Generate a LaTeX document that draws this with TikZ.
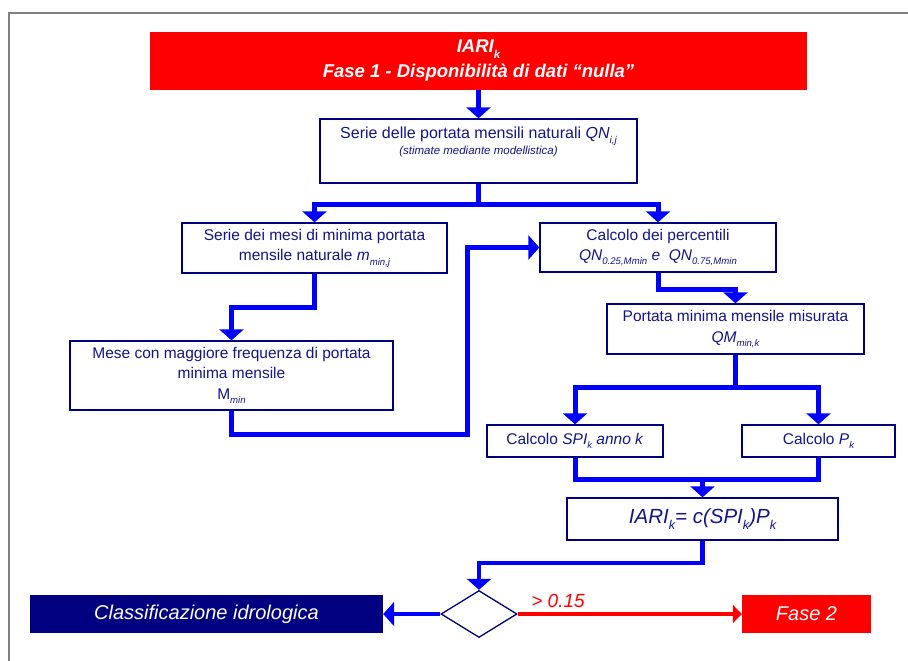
\documentclass[tikz,border=0pt]{standalone}
\usepackage{fontspec}
\setmainfont{Liberation Sans}
\usetikzlibrary{arrows.meta,shapes.geometric}
\definecolor{navyb}{RGB}{0,0,128}
\definecolor{navyt}{RGB}{20,20,140}
\definecolor{lblue}{RGB}{0,0,255}
\definecolor{rred}{RGB}{255,0,0}
\definecolor{fgray}{RGB}{128,128,128}
\makeatletter
\newcommand\sbx[1]{\raisebox{-0.28em}{\fontsize{\fpeval{0.62*\f@size}}{1}\selectfont\itshape #1}}
\makeatother
\tikzset{
  box/.style={draw=navyb, line width=1.3pt, fill=white, text=navyt, align=center,
    inner sep=0pt, font=\fontsize{15.5}{20.5}\selectfont},
  conn/.style={lblue, line width=5pt},
  arr/.style={conn, -{Triangle[width=24pt,length=11pt]}},
  redbox/.style={fill=rred, text=white, align=center, inner sep=0pt},
}
\begin{document}
\begin{tikzpicture}[x=1pt,y=-1pt]
\useasboundingbox (0,0) rectangle (908,661);
\draw[fgray, line width=1.5pt] (9,661) -- (9,13) -- (908,13);

% nodes
\node[redbox, minimum width=657, minimum height=58,
  font=\fontsize{18.5}{25}\selectfont\bfseries\itshape] (top) at (478.5,61)
  {IARI\sbx{k}\\Fase 1 - Disponibilità di dati “nulla”};
\node[box, minimum width=317, minimum height=64] (b1) at (478.5,151) {};
\node[text=navyt, align=center, inner sep=0pt, font=\fontsize{16}{14}\selectfont] (t1) at (478.5,142)
  {Serie delle portata mensili naturali \textit{QN}\sbx{i,j}\\
   {\fontsize{11.5}{13}\selectfont\itshape (stimate mediante modellistica)}};
\node[box, minimum width=265, minimum height=50] (b2) at (314.5,248)
  {Serie dei mesi di minima portata\\mensile naturale \textit{m}\sbx{min,j}};
\node[box, minimum width=236, minimum height=49] (b3) at (658,247.5)
  {Calcolo dei percentili\\\textit{QN}\sbx{0.25,Mmin}\textit{ e\ \ QN}\sbx{0.75,Mmin}};
\node[box, minimum width=323, minimum height=69] (b4) at (231.5,375.5)
  {Mese con maggiore frequenza di portata\\minima mensile\\M\sbx{min}};
\node[box, minimum width=257, minimum height=50] (b5) at (735.5,329)
  {Portata minima mensile misurata\\\textit{QM}\sbx{min,k}};
\node[box, minimum width=176, minimum height=32] (b6) at (575,441)
  {Calcolo \textit{SPI}\sbx{k}\textit{ anno k}};
\node[box, minimum width=153, minimum height=32] (b7) at (818.5,441)
  {Calcolo \textit{P}\sbx{k}};
\node[box, minimum width=271, minimum height=42, font=\fontsize{20.5}{24}\selectfont\itshape] (b8) at (702.5,519)
  {IARI\sbx{k}= c(SPI\sbx{k})P\sbx{k}};
\node[diamond, draw=navyb, line width=1.3pt, fill=white, minimum width=76, minimum height=47, inner sep=0pt] (dm) at (479,614) {};
\node[fill=navyb, text=white, inner sep=0pt, minimum width=353, minimum height=38,
  font=\fontsize{20}{24}\selectfont\itshape] (cls) at (206.5,614) {Classificazione idrologica};
\node[redbox, minimum width=129, minimum height=38,
  font=\fontsize{20}{24}\selectfont\itshape] (f2) at (806.5,614) {Fase 2};
\node[text=rred, inner sep=0pt, font=\fontsize{19}{22}\selectfont\itshape] (lab) at (558,601) {> 0.15};

% junction coordinates
\coordinate (j1) at (478.5,204);
\coordinate (j2) at (300,307);
\coordinate (j3) at (467,434);
\coordinate (j4) at (700,289);
\coordinate (j5) at (735.5,387);
\coordinate (j6) at (702.5,479);
\coordinate (j7) at (600,563);

% connectors
\draw[arr] (top.south -| b1.north) -- (b1.north);
\draw[conn] (b1.south) -- (j1);
\draw[arr] (j1) -| (b2.north);
\draw[arr] (j1) -| (b3.north);
\draw[arr] (b2.south) |- (j2) -| (b4.north);
\draw[arr] (b4.south) |- (j3) |- (b3.west);
\draw[arr] (b3.south) |- (j4) -| (b5.north);
\draw[conn] (b5.south) -- (j5);
\draw[arr] (j5) -| (b6.north);
\draw[arr] (j5) -| (b7.north);
\draw[conn] (b6.south) |- (j6);
\draw[conn] (b7.south) |- (j6);
\draw[arr] (j6) -- (b8.north);
\draw[arr, line width=4.5pt] (b8.south) |- (j7) -| (dm.north);
\draw[arr, line width=4.5pt] (dm.west) -- (cls.east);
\draw[rred, line width=4pt, -{Triangle[width=18pt,length=9pt]}] (dm.east) -- (f2.west);
\end{tikzpicture}
\end{document}
